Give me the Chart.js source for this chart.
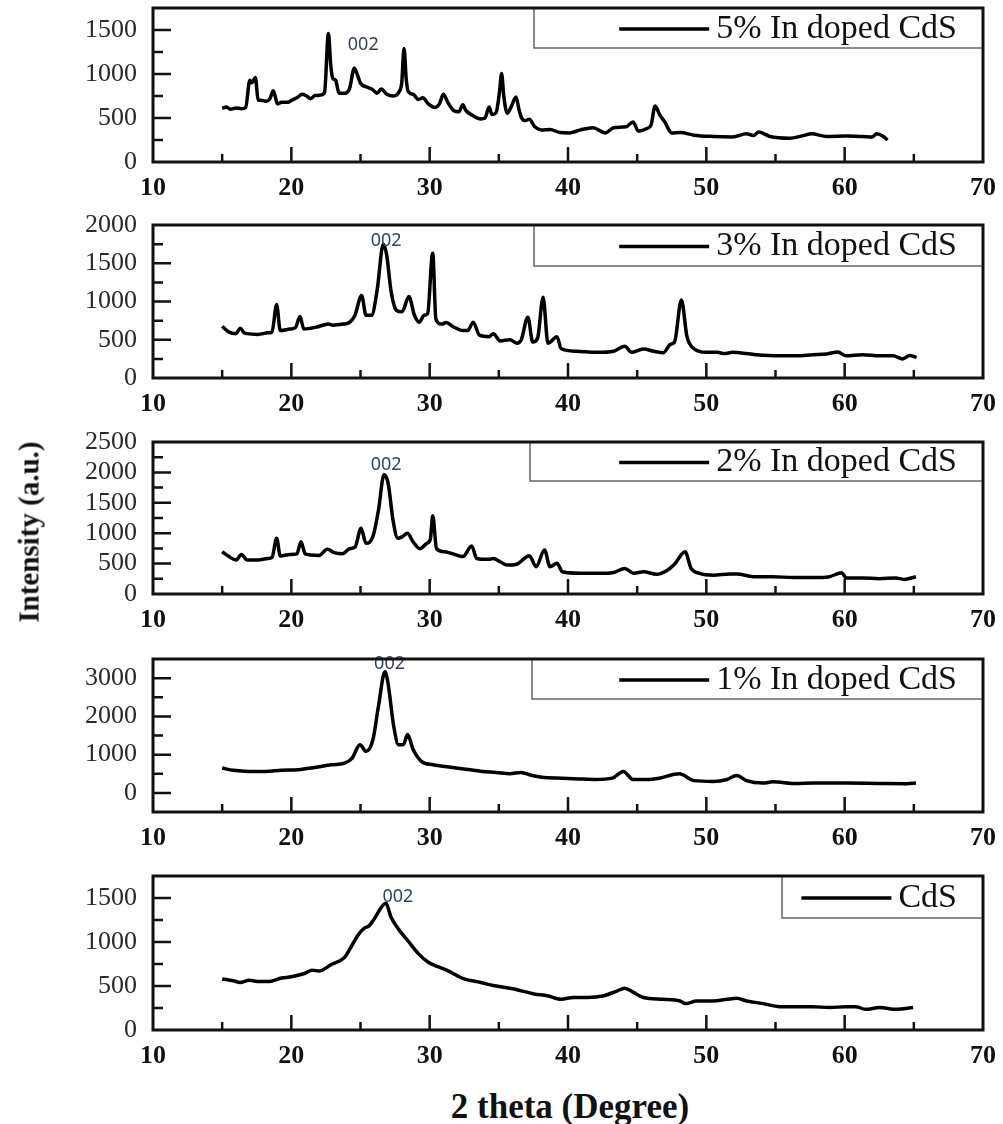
<!DOCTYPE html>
<html>
<head>
<meta charset="utf-8">
<script src="https://cdn.jsdelivr.net/npm/chart.js@4.4.1/dist/chart.umd.min.js"></script>
<style>
  body { margin: 0; background: #fff; width: 1003px; height: 1124px; overflow: hidden; position: relative; font-family: 'Liberation Serif', serif; }
  .panel { position: absolute; left: 0; width: 1003px; }
  #yTitle { position: absolute; left: 29px; top: 532px; transform: translate(-50%, -50%) rotate(-90deg); font-weight: bold; font-size: 29px; white-space: nowrap; color: #111; }
  #xTitle { position: absolute; left: 570px; top: 1107px; transform: translate(-50%, -50%); font-weight: bold; font-size: 35px; white-space: nowrap; color: #111; }
</style>
</head>
<body>
<div id="panels"></div>
<div id="yTitle">Intensity (a.u.)</div>
<div id="xTitle">2 theta (Degree)</div>
<script>
// 2 theta (deg) / intensity (a.u.), one pair per sample
const theta5 = [15.0, 15.3, 15.6, 16.0, 16.4, 16.7, 17.0, 17.15, 17.4, 17.6, 17.9, 18.2, 18.45, 18.7, 19.0, 19.3, 19.8, 20.0, 20.4, 20.8, 21.1, 21.4, 21.7, 22.1, 22.4, 22.68, 22.85, 23.0, 23.2, 23.45, 23.8, 24.2, 24.55, 24.8, 25.0, 25.5, 25.9, 26.2, 26.5, 26.9, 27.4, 27.8, 27.98, 28.15, 28.3, 28.45, 28.8, 29.2, 29.5, 29.9, 30.4, 30.7, 31.0, 31.3, 31.7, 32.1, 32.4, 32.6, 33.1, 33.7, 34.0, 34.3, 34.5, 34.8, 35.05, 35.2, 35.35, 35.6, 35.9, 36.24, 36.45, 36.65, 36.9, 37.2, 37.6, 38.1, 38.7, 39.4, 40.1, 40.9, 41.8, 42.7, 43.3, 44.2, 44.7, 45.1, 45.7, 46.0, 46.3, 46.65, 47.0, 47.5, 48.1, 49.1, 50.5, 51.9, 52.9, 53.4, 53.8, 54.6, 56.0, 57.0, 57.6, 58.7, 60.1, 61.3, 62.0, 62.3, 62.8, 63.1];
const int5 = [610, 625, 600, 615, 605, 620, 930, 900, 960, 705, 700, 690, 720, 810, 660, 680, 680, 700, 730, 770, 750, 720, 755, 760, 790, 1460, 1100, 950, 930, 780, 780, 830, 1065, 980, 895, 850, 820, 780, 830, 770, 750, 800, 900, 1290, 950, 800, 770, 710, 730, 660, 620, 660, 770, 680, 590, 570, 650, 590, 530, 490, 500, 625, 540, 560, 800, 1005, 760, 555, 630, 740, 600, 500, 470, 485, 400, 365, 370, 335, 330, 365, 390, 330, 390, 400, 455, 350, 380, 420, 635, 530, 455, 330, 335, 305, 290, 285, 320, 300, 340, 290, 270, 300, 320, 290, 295, 290, 285, 320, 290, 250];

const theta3 = [15.0, 15.5, 16.0, 16.3, 16.6, 16.8, 17.6, 18.3, 18.6, 18.94, 19.2, 19.9, 20.3, 20.63, 20.9, 21.8, 22.7, 23.0, 23.75, 24.2, 24.6, 25.08, 25.4, 25.8, 26.2, 26.65, 26.9, 27.2, 27.6, 28.0, 28.5, 28.9, 29.25, 29.6, 29.85, 30.22, 30.45, 30.85, 31.2, 31.7, 32.4, 32.75, 33.15, 33.6, 34.3, 34.6, 35.1, 35.8, 36.3, 36.6, 37.1, 37.45, 37.8, 38.2, 38.55, 39.2, 39.5, 40.6, 42.1, 43.3, 44.1, 44.6, 45.45, 46.2, 46.9, 47.4, 47.7, 48.2, 48.6, 49.1, 50.0, 50.8, 51.3, 51.9, 52.9, 53.6, 55.3, 56.5, 57.7, 58.7, 59.5, 60.1, 61.3, 62.55, 63.5, 64.2, 64.7, 65.2];
const int3 = [675, 600, 580, 650, 590, 580, 570, 590, 600, 960, 620, 640, 660, 805, 640, 665, 705, 690, 705, 725, 820, 1080, 820, 820, 1145, 1750, 1600, 1145, 885, 865, 1065, 820, 730, 820, 840, 1630, 770, 705, 725, 670, 620, 620, 730, 560, 540, 580, 485, 500, 455, 490, 795, 470, 520, 1055, 455, 540, 385, 350, 335, 350, 415, 335, 380, 350, 330, 440, 470, 1020, 540, 385, 335, 335, 320, 335, 320, 305, 290, 290, 305, 315, 340, 290, 305, 290, 290, 250, 295, 270];

const theta2 = [15.0, 15.5, 16.0, 16.4, 16.8, 17.6, 18.3, 18.6, 18.94, 19.2, 19.9, 20.4, 20.7, 21.0, 22.0, 22.6, 23.1, 23.7, 24.2, 24.6, 25.04, 25.4, 25.9, 26.3, 26.7, 27.0, 27.35, 27.7, 28.0, 28.4, 28.8, 29.3, 29.8, 30.05, 30.22, 30.5, 31.1, 31.7, 32.4, 33.04, 33.4, 34.3, 34.6, 35.1, 35.6, 36.3, 37.2, 37.7, 38.3, 38.7, 39.2, 39.6, 40.87, 42.1, 43.3, 44.1, 44.75, 45.45, 46.4, 47.1, 47.7, 48.46, 48.9, 49.5, 50.5, 51.7, 52.2, 53.4, 54.8, 56.3, 57.7, 58.9, 59.8, 60.1, 61.3, 62.5, 63.7, 64.3, 65.15];
const int2 = [695, 615, 560, 650, 560, 560, 585, 600, 915, 625, 650, 660, 860, 660, 635, 735, 680, 660, 745, 770, 1080, 835, 945, 1380, 1960, 1820, 1215, 915, 940, 1000, 860, 745, 835, 900, 1285, 745, 695, 660, 615, 790, 585, 570, 585, 530, 475, 490, 630, 450, 725, 450, 505, 365, 340, 340, 355, 420, 340, 365, 325, 380, 490, 695, 420, 340, 310, 330, 330, 285, 285, 270, 270, 285, 350, 265, 265, 250, 265, 240, 285];

const theta1 = [15.0, 15.8, 16.95, 18.1, 19.3, 20.5, 21.7, 22.9, 23.85, 24.4, 24.96, 25.4, 25.9, 26.3, 26.77, 27.0, 27.4, 27.75, 28.1, 28.4, 28.8, 29.4, 30.25, 31.4, 32.6, 33.8, 34.8, 35.8, 36.6, 37.4, 38.1, 39.6, 40.8, 42.0, 43.2, 44.0, 44.7, 45.7, 46.6, 48.05, 49.1, 50.5, 51.5, 52.2, 52.9, 54.1, 54.8, 56.5, 57.7, 60.1, 62.55, 64.5, 65.15];
const int1 = [650, 590, 560, 560, 590, 605, 665, 735, 780, 910, 1260, 1085, 1395, 2270, 3165, 2840, 1745, 1260, 1260, 1525, 1140, 825, 735, 675, 620, 560, 535, 500, 535, 455, 410, 385, 365, 350, 385, 560, 350, 350, 385, 500, 320, 300, 350, 455, 320, 255, 290, 245, 255, 255, 245, 240, 255];

const thetaPure = [15.0, 15.8, 16.3, 16.95, 17.7, 18.4, 19.3, 20.0, 21.0, 21.5, 22.0, 22.9, 23.85, 24.3, 24.9, 25.3, 25.6, 26.0, 26.84, 27.2, 27.8, 28.5, 29.2, 29.9, 30.6, 31.3, 32.5, 33.7, 34.6, 36.1, 37.55, 38.5, 39.5, 40.4, 41.4, 42.6, 43.5, 44.1, 44.7, 45.45, 46.9, 48.1, 48.5, 49.3, 50.5, 51.5, 52.2, 52.9, 54.1, 55.3, 56.5, 57.7, 58.9, 60.1, 60.8, 61.5, 62.55, 63.7, 64.95];
const intPure = [580, 560, 540, 565, 550, 550, 590, 605, 645, 680, 670, 745, 825, 940, 1095, 1160, 1180, 1265, 1440, 1285, 1135, 1000, 865, 770, 720, 675, 580, 540, 505, 465, 410, 390, 350, 370, 370, 390, 440, 475, 430, 370, 350, 330, 300, 330, 330, 350, 360, 330, 300, 265, 265, 265, 255, 265, 265, 235, 255, 235, 255];

const seriesLabels = ['5% In doped CdS', '3% In doped CdS', '2% In doped CdS', '1% In doped CdS', 'CdS'];
const thetas = [theta5, theta3, theta2, theta1, thetaPure];
const intensities = [int5, int3, int2, int1, intPure];

// (002) reflection marker, in data units
const peakText = '002';
const peakTheta = [25.2, 26.85, 26.85, 27.1, 27.7];
const peakInt = [1330, 1790, 2120, 3370, 1510];

// y axis per panel
const yMin = [0, 0, 0, -500, 0];
const yMax = [1750, 2000, 2500, 3500, 1750];
const yMajor = [500, 500, 500, 1000, 500];
const yMinor = [250, 250, 250, 500, 250];

// page layout (px)
const frameTop = [8, 225, 442, 659, 876];
const frameBottom = [162, 378, 594, 812, 1030];
const legendLeft = [534, 534, 530, 532, 782];
const legendHeight = [40, 41, 39, 40, 42];
const PAD_TOP = 18, AXIS_H = 46, Y_AXIS_W = 153, PAD_RIGHT = 20;
const SERIF = "'Liberation Serif', 'Times New Roman', serif";

Chart.defaults.font.family = SERIF;

const peakNote = {
    id: 'peakNote',
    afterDraw(chart, args, opts) {
        const { ctx, scales: { x, y } } = chart;
        ctx.save();
        ctx.font = '18px "Noto Sans"';
        ctx.fillStyle = '#34435e';
        ctx.textAlign = 'center';
        ctx.textBaseline = 'middle';
        ctx.fillText(opts.text, x.getPixelForValue(opts.x), y.getPixelForValue(opts.y));
        ctx.restore();
    }
};

const boxLegend = {
    id: 'boxLegend',
    afterDraw(chart, args, opts) {
        const { ctx, chartArea: a } = chart;
        const label = chart.data.datasets[0].label;
        const w = a.right - opts.left;
        ctx.save();
        ctx.fillStyle = '#fff';
        ctx.fillRect(opts.left, a.top, w, opts.height);
        ctx.strokeStyle = '#666';
        ctx.lineWidth = 1.5;
        ctx.strokeRect(opts.left, a.top, w, opts.height);

        ctx.font = '34px ' + SERIF;
        ctx.fillStyle = '#111';
        ctx.textAlign = 'right';
        ctx.textBaseline = 'middle';
        const textRight = a.right - 26;
        const midY = a.top + opts.height / 2 + 1;
        ctx.fillText(label, textRight, midY);
        const textLeft = textRight - ctx.measureText(label).width;

        ctx.strokeStyle = '#000';
        ctx.lineWidth = 3.5;
        ctx.beginPath();
        ctx.moveTo(textLeft - 97, midY);
        ctx.lineTo(textLeft - 7, midY);
        ctx.stroke();
        ctx.restore();
    }
};

// box frame plus inward major/minor ticks
const frameTicks = {
    id: 'frameTicks',
    afterDraw(chart, args, opts) {
        const { ctx, chartArea: a, scales: { x, y } } = chart;
        ctx.save();
        ctx.strokeStyle = '#111';
        ctx.lineWidth = 2.5;
        ctx.beginPath();
        x.ticks.forEach(t => {
            if (t.value <= x.min || t.value >= x.max) return;
            const px = x.getPixelForValue(t.value);
            const len = t.value % 10 === 0 ? 15 : 8;
            ctx.moveTo(px, a.bottom);
            ctx.lineTo(px, a.bottom - len);
        });
        y.ticks.forEach(t => {
            if (t.value <= y.min || t.value >= y.max) return;
            const py = y.getPixelForValue(t.value);
            const len = t.value % opts.major === 0 ? 18 : 10;
            ctx.moveTo(a.left, py);
            ctx.lineTo(a.left + len, py);
        });
        ctx.stroke();
        ctx.lineWidth = 3;
        ctx.strokeRect(a.left, a.top, a.right - a.left, a.bottom - a.top);
        ctx.restore();
    }
};

function createPanel(i) {
    const wrap = document.createElement('div');
    wrap.className = 'panel';
    wrap.style.top = (frameTop[i] - PAD_TOP) + 'px';
    wrap.style.height = (frameBottom[i] - frameTop[i] + PAD_TOP + AXIS_H) + 'px';
    const canvas = document.createElement('canvas');
    wrap.appendChild(canvas);
    document.getElementById('panels').appendChild(wrap);

    const points = thetas[i].map((t, k) => ({ x: t, y: intensities[i][k] }));

    return new Chart(canvas, {
        type: 'line',
        data: {
            datasets: [{
                label: seriesLabels[i],
                data: points,
                borderColor: '#000',
                borderWidth: 3.5,
                pointRadius: 0,
                cubicInterpolationMode: 'monotone',
                fill: false
            }]
        },
        options: {
            responsive: true,
            maintainAspectRatio: false,
            animation: false,
            events: [],
            layout: { padding: { top: PAD_TOP, right: PAD_RIGHT, left: 0, bottom: 0 } },
            plugins: {
                legend: { display: false },
                tooltip: { enabled: false },
                peakNote: { text: peakText, x: peakTheta[i], y: peakInt[i] },
                boxLegend: { left: legendLeft[i], height: legendHeight[i] },
                frameTicks: { major: yMajor[i] }
            },
            scales: {
                x: {
                    type: 'linear',
                    min: 10,
                    max: 70,
                    grid: { display: false, drawTicks: false },
                    border: { display: false },
                    ticks: {
                        stepSize: 5,
                        autoSkip: false,
                        maxRotation: 0,
                        padding: 11,
                        color: '#111',
                        font: { family: SERIF, size: 26, weight: 'bold' },
                        callback: v => (v % 10 === 0 ? v : '')
                    },
                    afterFit: s => {
                        s.height = AXIS_H;
                        s.paddingLeft = 0;
                        s.paddingRight = 0;
                    }
                },
                y: {
                    min: yMin[i],
                    max: yMax[i],
                    grid: { display: false, drawTicks: false },
                    border: { display: false },
                    ticks: {
                        stepSize: yMinor[i],
                        autoSkip: false,
                        padding: 16,
                        color: '#2a2a2a',
                        font: { family: SERIF, size: 26 },
                        callback: v => (v >= 0 && v % yMajor[i] === 0 ? v : '')
                    },
                    afterFit: s => {
                        s.width = Y_AXIS_W;
                        s.paddingTop = 0;
                        s.paddingBottom = 0;
                    }
                }
            }
        },
        plugins: [peakNote, boxLegend, frameTicks]
    });
}

seriesLabels.forEach((_, i) => createPanel(i));
</script>
</body>
</html>
